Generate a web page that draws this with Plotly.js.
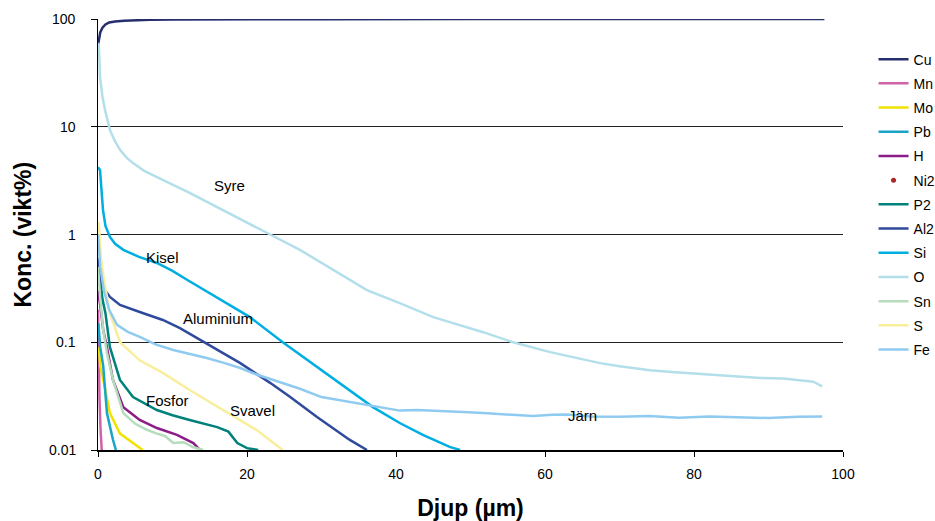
<!DOCTYPE html>
<html>
<head>
<meta charset="utf-8">
<script src="https://cdn.plot.ly/plotly-3.0.1.min.js"></script>
<style>html,body{margin:0;padding:0;background:#fff;}#chart{width:935px;height:521px;}</style>
</head>
<body>
<div id="chart"></div>
<script>
// Depth (µm) and concentration (vikt%) per element
const cuDepth = [0, 0.1, 0.3, 0.6, 1, 1.5, 2.3, 3.5, 5, 7, 10, 15, 20, 30, 50, 97.5];
const cuConc  = [57, 65, 75, 83, 89, 93, 95, 96.5, 97.5, 98.2, 98.8, 99.2, 99.5, 99.7, 99.8, 99.8];

const mnDepth = [0, 0.1, 0.2, 0.35, 0.5];
const mnConc  = [0.2, 0.06, 0.03, 0.015, 0.01];

const moDepth = [0.1, 0.3, 0.7, 1.6, 2.95, 4.7, 6.0];
const moConc  = [0.09, 0.06, 0.045, 0.022, 0.0142, 0.0116, 0.01];

const pbDepth = [0.05, 0.3, 0.7, 1.2, 2.0, 2.4];
const pbConc  = [0.15, 0.09, 0.06, 0.022, 0.0125, 0.01];

const hDepth = [0, 0.3, 0.7, 1.2, 2.0, 3.4, 5.6, 7.9, 10.6, 12.8, 13.7];
const hConc  = [0.3, 0.22, 0.13, 0.09, 0.045, 0.025, 0.019, 0.016, 0.0138, 0.0116, 0.01];

const ni2Depth = [0.5];
const ni2Conc  = [0.005];

const p2Depth = [0, 0.3, 0.6, 1.0, 1.6, 2.95, 4.7, 7.9, 10, 12.3, 14, 16, 17.5, 18.7, 20, 21.5];
const p2Conc  = [0.6, 0.38, 0.25, 0.186, 0.09, 0.0447, 0.031, 0.0235, 0.021, 0.019, 0.0178, 0.0163, 0.0148, 0.0116, 0.0104, 0.01];

const al2Depth = [0, 0.15, 0.5, 1.0, 1.6, 2.95, 5.6, 8.7, 11, 13.7, 16.5, 19.1, 23.1, 25.8, 29.4, 33.8, 36.1];
const al2Conc  = [0.6, 0.45, 0.35, 0.3, 0.263, 0.222, 0.191, 0.161, 0.135, 0.105, 0.082, 0.064, 0.042, 0.031, 0.0202, 0.0124, 0.01];

const siDepth = [0, 0.27, 0.67, 1.0, 1.6, 2.3, 3.4, 5.5, 7.9, 10, 12, 16, 20.4, 24.8, 29.4, 33.8, 36.9, 40.5, 43.6, 47.2, 48.6];
const siConc  = [4.2, 3.97, 1.69, 1.2, 0.95, 0.82, 0.72, 0.62, 0.544, 0.46, 0.378, 0.26, 0.171, 0.1, 0.059, 0.036, 0.025, 0.0178, 0.0138, 0.0107, 0.01];

const oDepth = [0, 0.13, 0.27, 0.6, 0.94, 1.61, 2.3, 2.95, 3.8, 4.7, 6.2, 7.9, 10, 12.3, 16.8, 21.3, 23.1, 27.1, 31.5, 36.1, 40.5, 45.0, 51.7, 55.7, 60.7, 65.1, 67.4, 70, 74.1, 77, 80.8, 85, 88.9, 92, 94.2, 96, 97.2];
const oConc  = [60, 55, 29, 19, 14.3, 9.3, 7.3, 6.1, 5.2, 4.6, 3.9, 3.4, 2.9, 2.43, 1.69, 1.17, 1.0, 0.72, 0.47, 0.305, 0.231, 0.171, 0.124, 0.1, 0.081, 0.070, 0.064, 0.060, 0.055, 0.053, 0.051, 0.049, 0.0466, 0.046, 0.0444, 0.043, 0.039];

const snDepth = [0, 0.3, 0.7, 1.2, 2.0, 3.4, 5.0, 6.5, 7.9, 9.0, 10.1, 11.5, 12.8, 14.1];
const snConc  = [0.5, 0.25, 0.13, 0.08, 0.045, 0.022, 0.0175, 0.0155, 0.0142, 0.0135, 0.0116, 0.0118, 0.0106, 0.01];

const sDepth = [0, 0.1, 0.4, 0.8, 1.6, 2.95, 5.6, 8.7, 12.3, 16.8, 21.3, 24.8];
const sConc  = [1.3, 1.28, 0.6, 0.38, 0.186, 0.1, 0.068, 0.052, 0.036, 0.0235, 0.0153, 0.01];

const feDepth = [0, 0.3, 0.8, 1.5, 2.55, 4, 5.6, 7.8, 10.1, 12.3, 14.6, 17, 19.1, 21, 23.5, 25.8, 27.1, 30, 33.8, 36, 38.3, 40.5, 42.8, 46, 49, 51.7, 55, 58.4, 61, 63, 66, 70, 74, 78, 82, 86, 90, 94, 97.2];
const feConc  = [1.0, 0.5, 0.3, 0.2, 0.145, 0.125, 0.112, 0.095, 0.0847, 0.078, 0.0714, 0.064, 0.0577, 0.051, 0.0450, 0.0400, 0.0370, 0.031, 0.0279, 0.026, 0.0245, 0.0232, 0.0235, 0.0228, 0.0225, 0.0220, 0.0215, 0.0207, 0.0212, 0.0214, 0.0205, 0.0203, 0.0207, 0.0199, 0.0205, 0.0201, 0.0198, 0.0203, 0.0205];

const seriesNames  = ["Cu", "Mn", "Mo", "Pb", "H", "Ni2", "P2", "Al2", "Si", "O", "Sn", "S", "Fe"];
const seriesColors = ["#262e6e", "#cf62a8", "#f2e200", "#1aa5c8", "#8c1c88", "#a8272b", "#00817a", "#2f4a9c", "#00aee2", "#b3dfea", "#b5dcbb", "#f9ee9c", "#8fcbf1"];
const seriesX = [cuDepth, mnDepth, moDepth, pbDepth, hDepth, ni2Depth, p2Depth, al2Depth, siDepth, oDepth, snDepth, sDepth, feDepth];
const seriesY = [cuConc, mnConc, moConc, pbConc, hConc, ni2Conc, p2Conc, al2Conc, siConc, oConc, snConc, sConc, feConc];

const labelTexts = ["Syre", "Kisel", "Aluminium", "Fosfor", "Svavel", "Järn"];

const yTickVals = [0.01, 0.1, 1, 10, 100];
const yTickText = ["0.01", "0.1", "1", "10", "100"];
const xTickVals = [0, 20, 40, 60, 80, 100];
const yTitle = "Konc. (vikt%)";
const xTitle = "Djup (µm)";

const FONT = "'Liberation Sans', Arial, sans-serif";

const traces = seriesNames.map((n, i) => {
  const t = {
    x: seriesX[i], y: seriesY[i], name: n, type: "scatter",
    legendgroup: "g" + i
  };
  if (n === "Ni2") {
    t.mode = "markers";
    t.marker = {color: seriesColors[i], size: 5};
  } else {
    t.mode = "lines";
    t.line = {color: seriesColors[i], width: 2.5};
  }
  return t;
});

const labelPos = [
  [17.7, 0.459], [8.6, -0.209], [16.1, -0.784], [9.3, -1.536], [20.7, -1.629], [65.0, -1.684]
];
const annotations = labelTexts.map((t, i) => ({
  x: labelPos[i][0], y: labelPos[i][1], xref: "x", yref: "y",
  text: t, showarrow: false, font: {family: FONT, size: 15, color: "#000"}
}));

// y tick labels, set a fixed distance left of the axis
yTickVals.forEach((v, i) => annotations.push({
  x: 0, xref: "paper", y: Math.log10(v), yref: "y",
  xanchor: "right", yanchor: "middle", xshift: -20,
  text: yTickText[i], showarrow: false,
  font: {family: FONT, size: 14, color: "#000"}
}));

// y axis title
annotations.push({
  x: 0, xref: "paper", y: 0.5, yref: "paper",
  xanchor: "center", yanchor: "middle", xshift: -76, textangle: -90,
  text: "<b>" + yTitle + "</b>", showarrow: false,
  font: {family: FONT, size: 23, color: "#000"}
});

const layout = {
  width: 935, height: 521,
  margin: {l: 98, r: 92, t: 19, b: 71, autoexpand: false},
  paper_bgcolor: "#fff", plot_bgcolor: "#fff",
  font: {family: FONT, color: "#000"},
  showlegend: true,
  legend: {
    x: 1.041, xanchor: "left", y: 0.943, yanchor: "top",
    font: {family: FONT, size: 14, color: "#000"},
    traceorder: "grouped", tracegroupgap: 3,
    bgcolor: "rgba(0,0,0,0)"
  },
  xaxis: {
    range: [0, 100], tickvals: xTickVals,
    showgrid: false, zeroline: false,
    showline: true, linecolor: "#000", linewidth: 1.5,
    ticks: "outside", ticklen: 5, tickcolor: "#000", tickwidth: 1,
    ticklabelstandoff: 6,
    tickfont: {family: FONT, size: 14},
    title: {text: xTitle, font: {family: FONT, size: 23, weight: "bold"}, standoff: 20}
  },
  yaxis: {
    type: "log", range: [-2, 2], tickvals: yTickVals,
    showticklabels: false,
    showgrid: true, gridcolor: "#222", gridwidth: 1,
    zeroline: false,
    showline: true, linecolor: "#000", linewidth: 1.5,
    ticks: "outside", ticklen: 6, tickcolor: "#000", tickwidth: 1
  },
  annotations: annotations
};

Plotly.newPlot("chart", traces, layout, {staticPlot: true, displayModeBar: false});
</script>
</body>
</html>
